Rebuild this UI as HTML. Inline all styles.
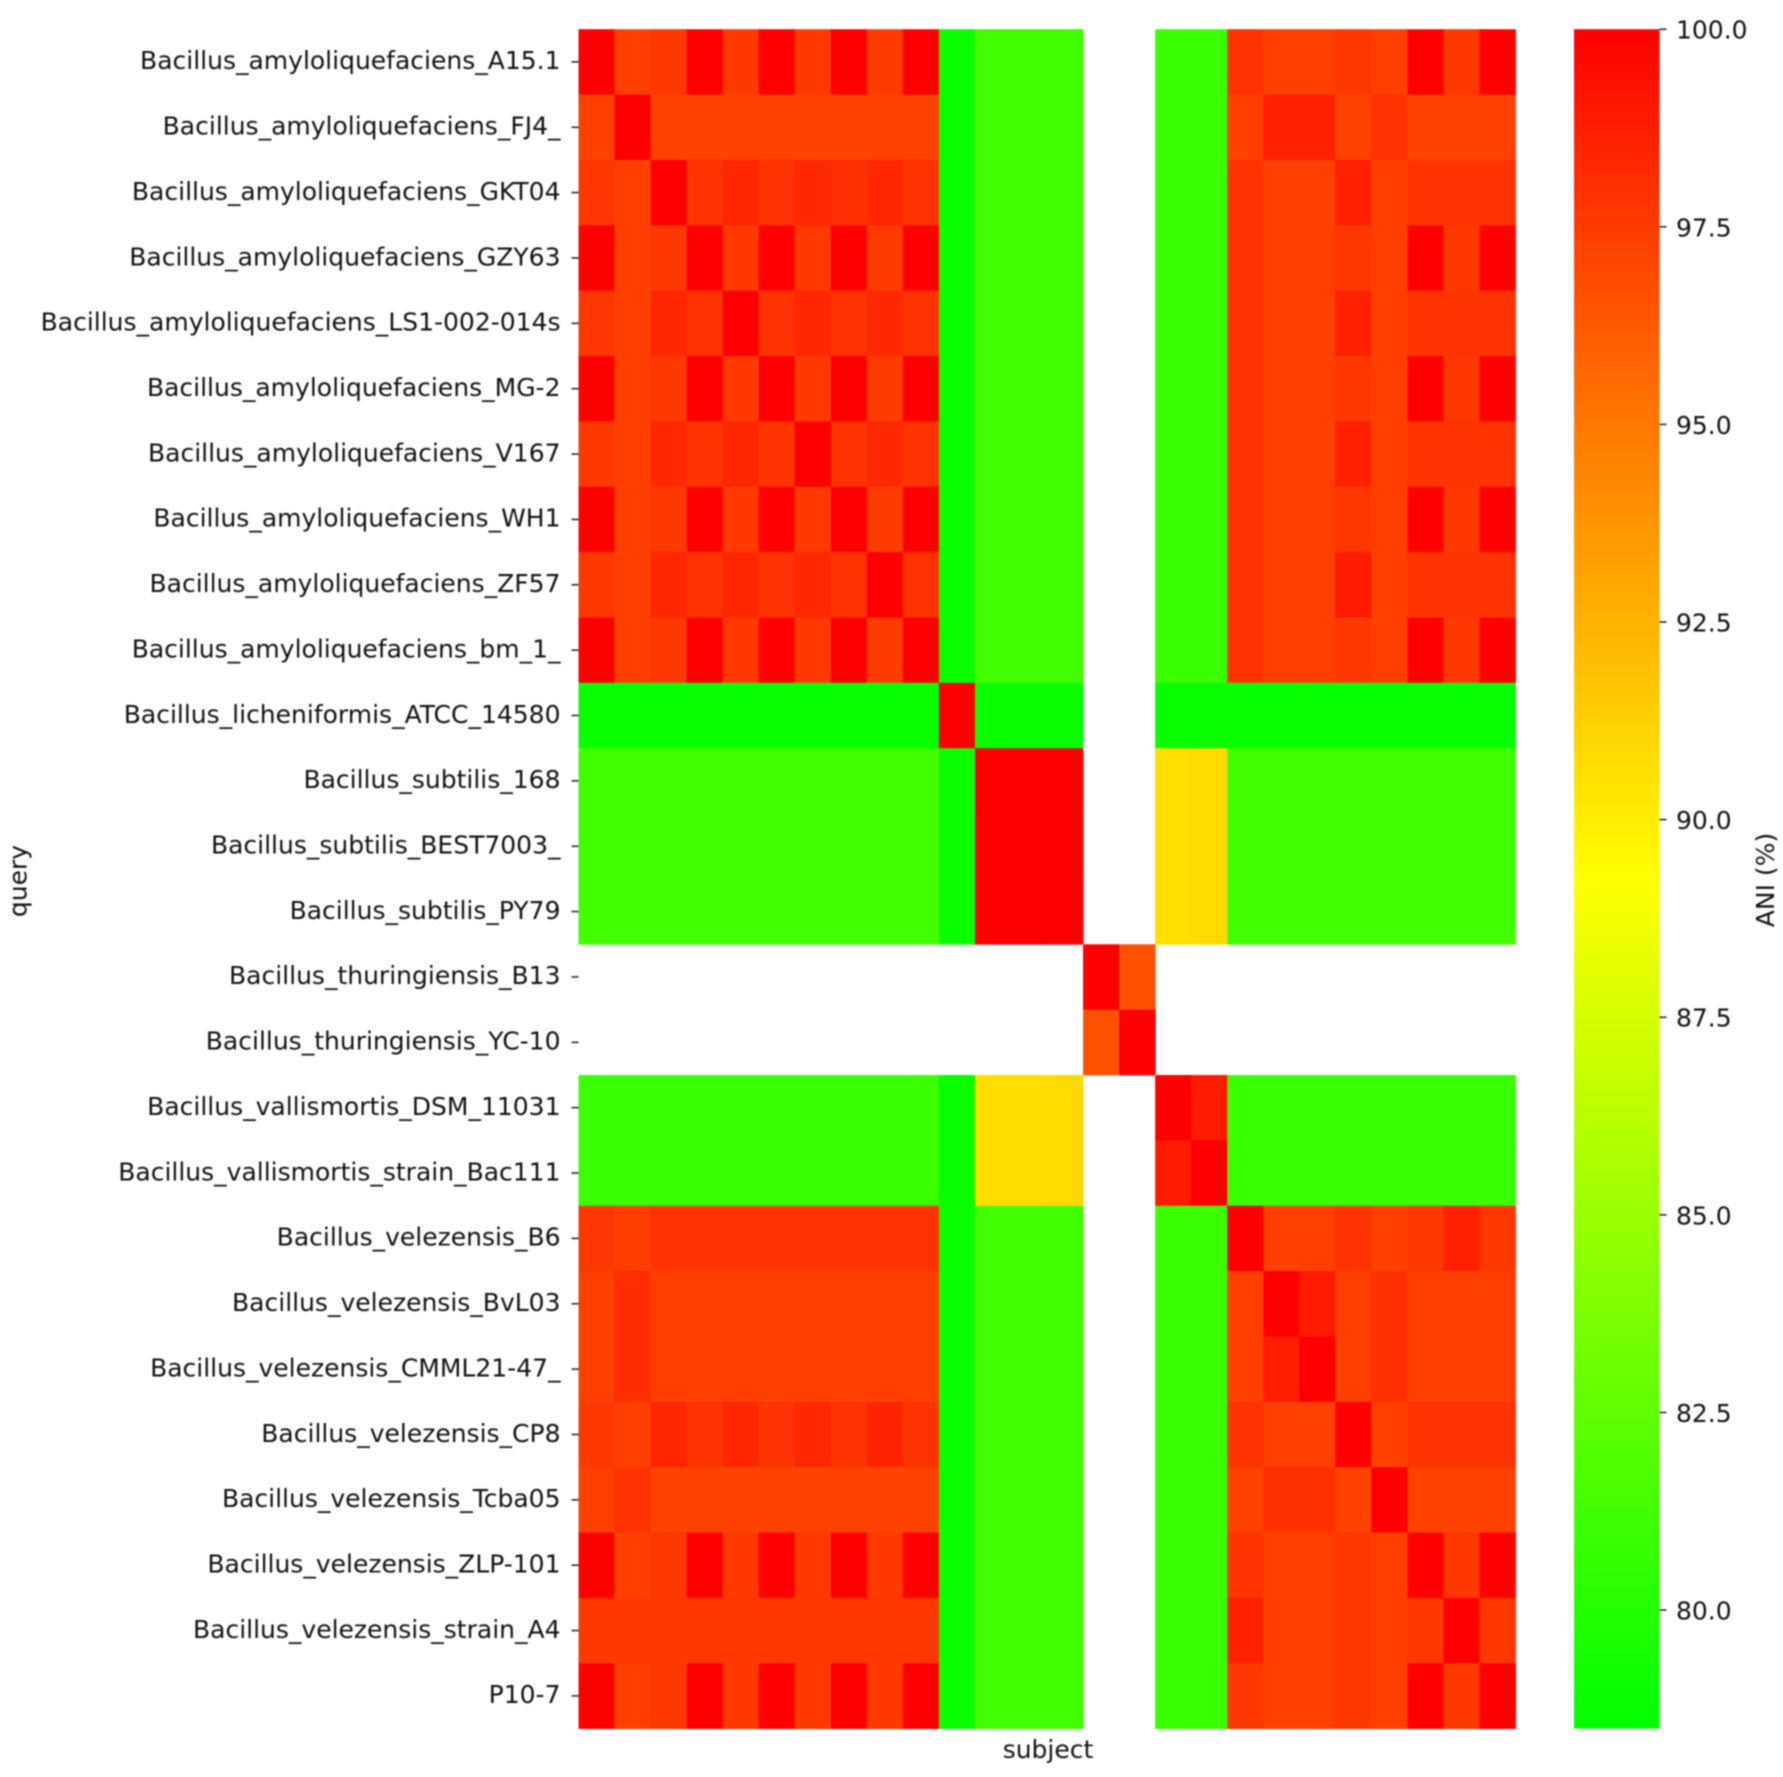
<!DOCTYPE html>
<html lang="en">
<head>
<meta charset="utf-8">
<title>ANI heatmap</title>
<style>
html,body{margin:0;padding:0;background:#fff;width:1783px;height:1777px;overflow:hidden}
svg{display:block;filter:blur(0.85px)}
text{font-family:"DejaVu Sans","Liberation Sans",sans-serif;fill:#111}
</style>
</head>
<body>
<svg id="chart" xmlns="http://www.w3.org/2000/svg" width="1783" height="1777" viewBox="0 0 1783 1777">
  <rect x="0" y="0" width="1783" height="1777" fill="#fff"/>
  <g id="cells"></g>
  <g id="yaxis"></g>
  <text x="1048" y="1758" font-size="25" text-anchor="middle">subject</text>
  <text x="0" y="0" font-size="25" text-anchor="middle" transform="translate(26.5 881) rotate(-90)">query</text>
  <defs>
    <linearGradient id="cbar-gradient" x1="0" y1="1" x2="0" y2="0">
      <stop offset="0" stop-color="#00ff00"/>
      <stop offset="0.5" stop-color="#ffff00"/>
      <stop offset="1" stop-color="#ff0000"/>
    </linearGradient>
  </defs>
  <rect id="cbar" fill="url(#cbar-gradient)"/>
  <g id="cbar-axis"></g>
  <text x="0" y="0" font-size="25" text-anchor="middle" transform="translate(1774 880) rotate(-90)">ANI (%)</text>
</svg>
<script>
const strains = [
  "Bacillus_amyloliquefaciens_A15.1","Bacillus_amyloliquefaciens_FJ4_","Bacillus_amyloliquefaciens_GKT04",
  "Bacillus_amyloliquefaciens_GZY63","Bacillus_amyloliquefaciens_LS1-002-014s","Bacillus_amyloliquefaciens_MG-2",
  "Bacillus_amyloliquefaciens_V167","Bacillus_amyloliquefaciens_WH1","Bacillus_amyloliquefaciens_ZF57",
  "Bacillus_amyloliquefaciens_bm_1_","Bacillus_licheniformis_ATCC_14580","Bacillus_subtilis_168",
  "Bacillus_subtilis_BEST7003_","Bacillus_subtilis_PY79","Bacillus_thuringiensis_B13","Bacillus_thuringiensis_YC-10",
  "Bacillus_vallismortis_DSM_11031","Bacillus_vallismortis_strain_Bac111","Bacillus_velezensis_B6",
  "Bacillus_velezensis_BvL03","Bacillus_velezensis_CMML21-47_","Bacillus_velezensis_CP8","Bacillus_velezensis_Tcba05",
  "Bacillus_velezensis_ZLP-101","Bacillus_velezensis_strain_A4","P10-7"
];
const aniValues = [
  [100,97.3,97.7,99.9,97.6,99.9,97.6,99.9,97.5,99.9,78.9,81.3,81.3,81.3,null,null,80.9,80.9,97.9,97.3,97.3,97.7,97.3,99.9,97.7,99.9],
  [97.3,100,97.2,97.2,97.2,97.2,97.2,97.2,97.2,97.2,78.9,81.3,81.3,81.3,null,null,80.9,80.9,97.3,98.6,98.6,97.2,97.9,97.2,97.2,97.2],
  [97.7,97.3,100,97.9,98.4,97.9,98.3,98.0,98.4,97.9,78.9,81.3,81.3,81.3,null,null,80.9,80.9,97.9,97.3,97.3,98.6,97.3,97.8,97.8,97.8],
  [99.9,97.3,97.7,100,97.6,99.9,97.6,99.9,97.5,99.9,78.9,81.3,81.3,81.3,null,null,80.9,80.9,97.9,97.3,97.3,97.7,97.3,99.9,97.7,99.9],
  [97.7,97.3,98.4,97.9,100,97.8,98.4,97.9,98.3,97.9,78.9,81.3,81.3,81.3,null,null,80.9,80.9,97.9,97.3,97.3,98.6,97.3,97.8,97.8,97.8],
  [99.9,97.3,97.7,99.9,97.6,100,97.6,99.9,97.5,99.9,78.9,81.3,81.3,81.3,null,null,80.9,80.9,97.9,97.3,97.3,97.7,97.3,99.9,97.7,99.9],
  [97.6,97.3,98.3,97.8,98.4,97.8,100,97.9,98.3,97.9,78.9,81.3,81.3,81.3,null,null,80.9,80.9,97.9,97.3,97.3,98.6,97.3,97.8,97.8,97.8],
  [99.9,97.3,97.7,99.9,97.6,99.9,97.6,100,97.5,99.9,78.9,81.3,81.3,81.3,null,null,80.9,80.9,97.9,97.3,97.3,97.7,97.3,99.9,97.7,99.9],
  [97.6,97.3,98.4,97.9,98.4,97.9,98.3,97.9,100,97.9,78.9,81.3,81.3,81.3,null,null,80.9,80.9,97.9,97.3,97.3,98.8,97.3,97.8,97.8,97.8],
  [99.9,97.3,97.7,99.9,97.6,99.9,97.6,99.9,97.5,100,78.9,81.3,81.3,81.3,null,null,80.9,80.9,97.9,97.3,97.3,97.7,97.3,99.9,97.7,99.9],
  [78.8,78.8,78.8,78.8,78.8,78.8,78.8,78.8,78.8,78.8,100,78.9,78.9,78.9,null,null,78.8,78.8,78.8,78.8,78.8,78.8,78.8,78.8,78.8,78.8],
  [81.3,81.3,81.3,81.3,81.3,81.3,81.3,81.3,81.3,81.3,78.9,100,99.9,99.9,null,null,90.6,90.8,81.3,81.3,81.3,81.3,81.3,81.3,81.3,81.3],
  [81.3,81.3,81.3,81.3,81.3,81.3,81.3,81.3,81.3,81.3,78.9,99.9,100,99.9,null,null,90.6,90.8,81.3,81.3,81.3,81.3,81.3,81.3,81.3,81.3],
  [81.3,81.3,81.3,81.3,81.3,81.3,81.3,81.3,81.3,81.3,78.9,99.9,99.9,100,null,null,90.6,90.8,81.3,81.3,81.3,81.3,81.3,81.3,81.3,81.3],
  [null,null,null,null,null,null,null,null,null,null,null,null,null,null,100,96.6,null,null,null,null,null,null,null,null,null,null],
  [null,null,null,null,null,null,null,null,null,null,null,null,null,null,96.6,100,null,null,null,null,null,null,null,null,null,null],
  [80.9,80.9,80.9,80.9,80.9,80.9,80.9,80.9,80.9,80.9,78.8,90.7,90.7,90.8,null,null,100,98.9,80.9,80.9,80.9,80.9,80.9,80.9,80.9,80.9],
  [80.9,80.9,80.9,80.9,80.9,80.9,80.9,80.9,80.9,80.9,78.8,90.7,90.7,90.8,null,null,98.9,100,80.9,80.9,80.9,80.9,80.9,80.9,80.9,80.9],
  [97.7,97.4,97.8,97.8,97.8,97.8,97.8,97.8,97.8,97.8,78.9,81.3,81.3,81.3,null,null,80.9,80.9,100,97.3,97.3,97.8,97.3,97.7,98.6,97.7],
  [97.3,98.1,97.3,97.3,97.3,97.3,97.3,97.3,97.3,97.3,78.9,81.3,81.3,81.3,null,null,80.9,80.9,97.3,100,98.9,97.3,98.0,97.3,97.3,97.3],
  [97.3,98.1,97.3,97.3,97.3,97.3,97.3,97.3,97.3,97.3,78.9,81.3,81.3,81.3,null,null,80.9,80.9,97.3,98.7,100,97.3,98.0,97.3,97.3,97.3],
  [97.6,97.3,98.4,97.8,98.4,97.8,98.3,97.8,98.5,97.8,78.9,81.3,81.3,81.3,null,null,80.9,80.9,97.8,97.3,97.3,100,97.3,97.8,97.8,97.8],
  [97.3,97.9,97.2,97.2,97.2,97.2,97.2,97.2,97.2,97.2,78.9,81.3,81.3,81.3,null,null,80.9,80.9,97.2,98.0,98.0,97.2,100,97.2,97.2,97.2],
  [99.9,97.3,97.7,99.9,97.6,99.9,97.6,99.9,97.6,99.9,78.9,81.3,81.3,81.3,null,null,80.9,80.9,97.8,97.3,97.3,97.7,97.3,100,97.7,99.9],
  [97.6,97.6,97.7,97.7,97.7,97.7,97.7,97.7,97.7,97.7,78.9,81.3,81.3,81.3,null,null,80.9,80.9,98.6,97.3,97.3,97.7,97.3,97.7,100,97.7],
  [99.9,97.3,97.7,99.9,97.6,99.9,97.6,99.9,97.6,99.9,78.9,81.3,81.3,81.3,null,null,80.9,80.9,97.7,97.3,97.3,97.7,97.3,99.9,97.7,100]
];
const colorbarTicks = ["100.0","97.5","95.0","92.5","90.0","87.5","85.0","82.5","80.0"];
const colorDomainMin = 78.5;
const colorDomainMax = 100;

const plotLeft = 578.5, plotRight = 1515.5, plotTop = 29.2, plotBottom = 1728.6;
const cbarLeft = 1574, cbarRight = 1659.5;
const SVG_NS = "http://www.w3.org/2000/svg";

function xScale(i){ return plotLeft + i * (plotRight - plotLeft) / strains.length; }
function yScale(i){ return plotTop + i * (plotBottom - plotTop) / strains.length; }
function cbarScale(v){ return plotTop + (colorDomainMax - v) * (plotBottom - plotTop) / (colorDomainMax - colorDomainMin); }
function colorScale(v){
  const t = Math.max(0, Math.min(1, (v - colorDomainMin) / (colorDomainMax - colorDomainMin)));
  const r = t < 0.5 ? Math.round(510 * t) : 255;
  const g = t < 0.5 ? 255 : Math.round(255 * (2 - 2 * t));
  return "rgb(" + r + "," + g + ",0)";
}
function svgEl(tag, attrs){
  const el = document.createElementNS(SVG_NS, tag);
  for (const k in attrs) el.setAttribute(k, attrs[k]);
  return el;
}

const cellsGroup = document.getElementById("cells");
const yAxisGroup = document.getElementById("yaxis");
const cbarAxisGroup = document.getElementById("cbar-axis");

aniValues.forEach(function(row, r){
  row.forEach(function(v, c){
    if (v === null) return;
    const cell = svgEl("rect", {x: xScale(c), y: yScale(r), width: xScale(c + 1) - xScale(c) + 0.4, height: yScale(r + 1) - yScale(r) + 0.4, fill: colorScale(v)});
    
    
    cellsGroup.appendChild(cell);
  });
});

strains.forEach(function(name, r){
  const yc = (yScale(r) + yScale(r + 1)) / 2;
  const tick = svgEl("line", {x1: plotLeft - 7, x2: plotLeft, y1: yc, y2: yc, stroke: "#222", "stroke-width": 1.5});
  
  
  yAxisGroup.appendChild(tick);
  const label = svgEl("text", {x: plotLeft - 18, y: yc + 7.3, "font-size": 25, "text-anchor": "end"});
  
  
  label.textContent = name;
  yAxisGroup.appendChild(label);
});

const cbar = document.getElementById("cbar");
cbar.setAttribute("x", cbarLeft);
cbar.setAttribute("y", plotTop);
cbar.setAttribute("width", cbarRight - cbarLeft);
cbar.setAttribute("height", plotBottom - plotTop);

colorbarTicks.forEach(function(lbl){
  const y = cbarScale(parseFloat(lbl));
  const tick = svgEl("line", {x1: cbarRight, x2: cbarRight + 7, y1: y, y2: y, stroke: "#222", "stroke-width": 1.5});
  
  
  cbarAxisGroup.appendChild(tick);
  const label = svgEl("text", {x: cbarRight + 16.5, y: y + 9.5, "font-size": 25});
  
  
  label.textContent = lbl;
  cbarAxisGroup.appendChild(label);
});
</script>
</body>
</html>
